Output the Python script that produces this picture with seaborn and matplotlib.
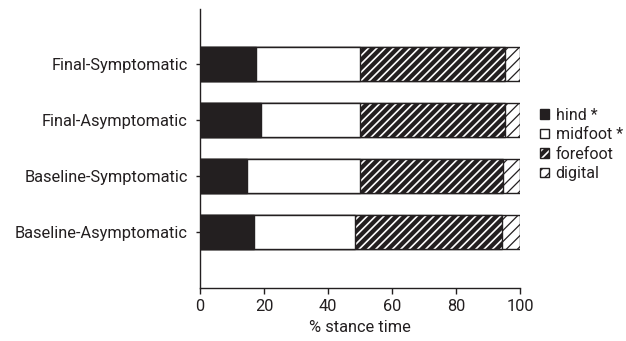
import numpy as np
import pandas as pd
import matplotlib
matplotlib.use("Agg")
import matplotlib.pyplot as plt
from matplotlib.patches import Patch
from matplotlib.colors import to_rgba
import seaborn as sns

categories = ["Final-Symptomatic", "Final-Asymptomatic", "Baseline-Symptomatic", "Baseline-Asymptomatic"]
hind = [17.5, 19.1, 14.8, 16.8]
midfoot = [32.5, 30.9, 35.2, 31.5]
forefoot = [45.3, 45.2, 44.7, 46.2]
digital = [4.7, 4.8, 5.3, 5.5]
segment_names = ["hind *", "midfoot *", "forefoot", "digital"]
x_ticks = [0, 20, 40, 60, 80, 100]
x_label = "% stance time"

sns.set_style("ticks")
plt.rcParams["font.family"] = ["Roboto", "DejaVu Sans"]
plt.rcParams["font.size"] = 11.8

segs = np.array([hind, midfoot, forefoot, digital])
cum = np.cumsum(segs, axis=0)

fig = plt.figure(figsize=(6.26, 3.41), dpi=100)
ax = fig.add_axes([0.3195, 0.1554, 0.511, 0.8182])

ink = "#231f20"
styles = [
    dict(color=ink, hatch=None, hlw=1.0, hcol=ink),
    dict(color="white", hatch=None, hlw=1.0, hcol=ink),
    dict(color=ink, hatch="////", hlw=1.2, hcol="white"),
    dict(color="white", hatch="///", hlw=0.9, hcol=ink),
]

def style_hatch(p, st):
    if hasattr(p, "set_hatch_linewidth"):
        p.set_hatch_linewidth(st["hlw"])
    else:
        p._hatch_linewidth = st["hlw"]
    if hasattr(p, "set_hatchcolor"):
        p.set_hatchcolor(st["hcol"])
    else:
        p._hatch_color = to_rgba(st["hcol"])

for i in range(3, -1, -1):
    st = styles[i]
    df = pd.DataFrame({"cat": categories, "val": cum[i]})
    n_before = len(ax.patches)
    sns.barplot(data=df, x="val", y="cat", orient="h", order=categories,
                color=st["color"], saturation=1, width=0.61,
                edgecolor=ink, linewidth=1.0, hatch=st["hatch"], ax=ax)
    for p in ax.patches[n_before:]:
        style_hatch(p, st)

ax.set_xlim(0, 100)
ax.set_ylim(4.0, -0.98)
ax.set_xticks(x_ticks)
ax.set_xlabel(x_label, fontsize=11.8, labelpad=4, color=ink)
ax.set_ylabel("")
sns.despine(ax=ax)
ax.spines["left"].set_linewidth(1.0)
ax.spines["bottom"].set_linewidth(1.0)
ax.spines["left"].set_color(ink)
ax.spines["bottom"].set_color(ink)
ax.tick_params(axis="x", length=4, width=1, labelsize=11.8, pad=4, colors=ink)
ax.tick_params(axis="y", length=3, width=1, labelsize=11.8, pad=6, colors=ink)

handles = []
for i, name in enumerate(segment_names):
    st = styles[i]
    handles.append(Patch(facecolor=st["color"], edgecolor=ink, hatch=st["hatch"],
                         linewidth=1.0, label=name))
leg = fig.legend(handles=handles, loc="upper left", bbox_to_anchor=(0.853, 0.703),
                 frameon=False, handlelength=0.55, handleheight=0.55, handletextpad=0.4,
                 labelspacing=0.28, fontsize=11.5, borderaxespad=0, labelcolor=ink)
for p, st in zip(leg.get_patches(), styles):
    style_hatch(p, st)

fig.savefig("out.png", dpi=100)
